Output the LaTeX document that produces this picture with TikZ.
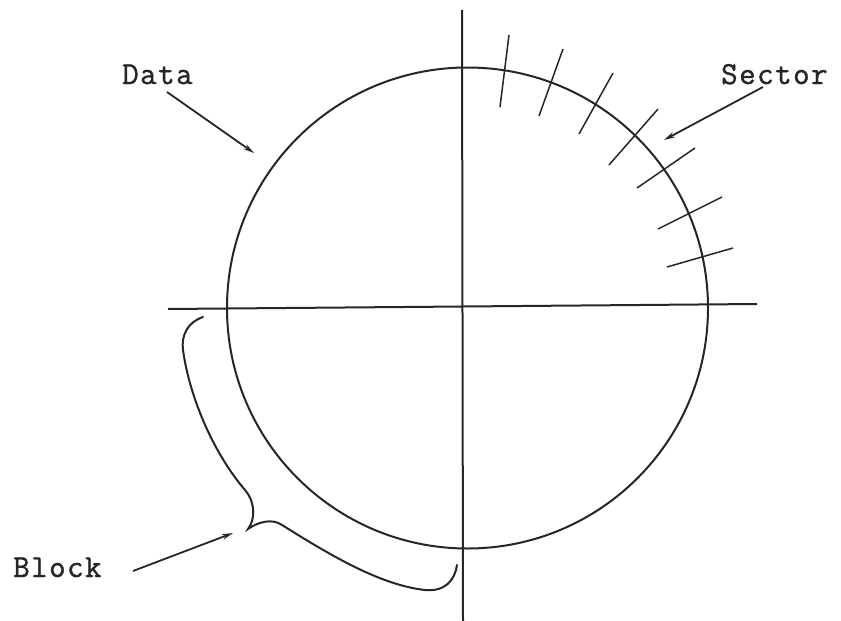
\documentclass[tikz,border=0pt]{standalone}
\usepackage{fontspec}
\newfontfamily\twfont[LetterSpace=4.7,FakeBold=1.2]{Latin Modern Mono}
\usetikzlibrary{arrows.meta}
\begin{document}
\begin{tikzpicture}[x=1pt,y=-1pt,
  ink/.style={line width=2pt,black!85},
  thin ink/.style={line width=1.5pt,black!85},
  pointer/.style={line width=1.8pt,black!85,-{Stealth[length=11pt,width=5.5pt]}},
  lbl/.style={font=\fontsize{32}{34}\twfont,inner sep=0pt,anchor=base west,text=black!85}]
\useasboundingbox (0,0) rectangle (841,621);
% axes
\coordinate (vtop) at (462,10);
\coordinate (vbot) at (463,621);
\coordinate (hleft) at (168,309);
\coordinate (hright) at (757,304);
\draw[ink] (vtop) -- (vbot);
\draw[ink] (hleft) -- (hright);
% disk
\coordinate (c) at (467.5,308);
\draw[ink] (c) circle[radius=240.5];
% sector ticks
\foreach \ax/\ay/\bx/\by in {509/35/500/107, 563/49/539/116, 613/73/579/134, 658/109/609/165, 695/148/637/188, 722/197/658/229, 733/248/667/267}
  \draw[thin ink] (\ax,\ay) -- (\bx,\by);
% labels
\node[lbl] (data) at (122,84) {Data};
\node[lbl] (sector) at (721,84) {Sector};
\node[lbl] (block) at (13,577) {Block};
% arrow targets
\coordinate (dataA) at (167,92);
\coordinate (dataB) at (254,153);
\coordinate (secA) at (763,87);
\coordinate (secB) at (664,140);
\coordinate (blkA) at (133,571);
\coordinate (blkB) at (233,533);
\draw[pointer] (dataA) -- (dataB);
\draw[pointer] (secA) -- (secB);
\draw[pointer] (blkA) -- (blkB);
% brace
\coordinate (brTop) at (203,317);
\coordinate (brTip) at (248,529);
\coordinate (brEnd) at (457,565);
\draw[ink,line cap=round] (brTop) .. controls (188,322) and (181,335) .. (183,350)
  .. controls (190,400) and (215,455) .. (245,490)
  .. controls (256,503) and (255,520) .. (brTip)
  .. controls (258,522) and (272,518) .. (282,525)
  .. controls (330,555) and (380,585) .. (425,590)
  .. controls (445,592) and (455,580) .. (brEnd);
\end{tikzpicture}
\end{document}
